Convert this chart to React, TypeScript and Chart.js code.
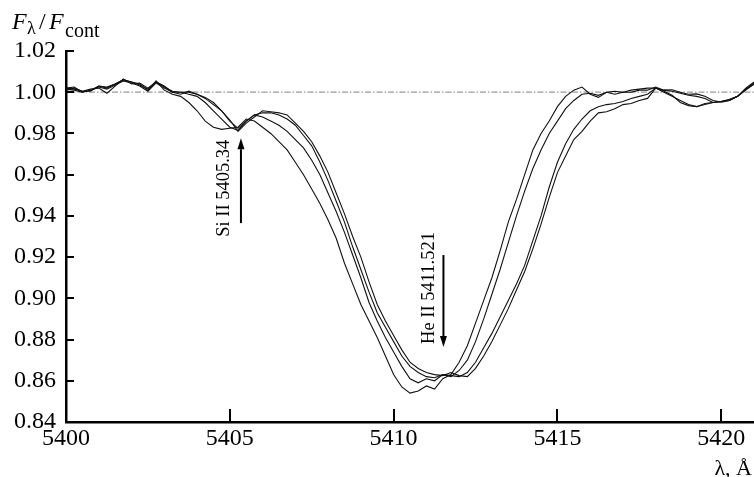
import React, { useEffect, useRef } from 'react';
import { Chart, registerables } from 'chart.js';

Chart.register(...registerables);

// ---- data ----
const X_MIN = 5400;
const X_MAX = 5421;
const Y_MIN = 0.84;
const Y_MAX = 1.02;
const X_TICKS = [5400, 5405, 5410, 5415, 5420];
const Y_TICKS = [0.84, 0.86, 0.88, 0.9, 0.92, 0.94, 0.96, 0.98, 1.0, 1.02];
const CONTINUUM_LEVEL = 1.0;

const WAVELENGTH = [
  5400.0, 5400.25, 5400.5, 5400.75, 5401.0, 5401.25, 5401.5, 5401.75,
  5402.0, 5402.25, 5402.5, 5402.75, 5403.0, 5403.25, 5403.5, 5403.75,
  5404.0, 5404.25, 5404.5, 5404.75, 5405.0, 5405.25, 5405.5, 5405.75,
  5406.0, 5406.25, 5406.5, 5406.75, 5407.0, 5407.25, 5407.5, 5407.75,
  5408.0, 5408.25, 5408.5, 5408.75, 5409.0, 5409.25, 5409.5, 5409.75,
  5410.0, 5410.25, 5410.5, 5410.75, 5411.0, 5411.25, 5411.5, 5411.75,
  5412.0, 5412.25, 5412.5, 5412.75, 5413.0, 5413.25, 5413.5, 5413.75,
  5414.0, 5414.25, 5414.5, 5414.75, 5415.0, 5415.25, 5415.5, 5415.75,
  5416.0, 5416.25, 5416.5, 5416.75, 5417.0, 5417.25, 5417.5, 5417.75,
  5418.0, 5418.25, 5418.5, 5418.75, 5419.0, 5419.25, 5419.5, 5419.75,
  5420.0, 5420.25, 5420.5, 5420.75, 5421.0,
];

const SPECTRUM_1 = [
  1.002, 1.0025, 1.0, 1.001, 1.003, 1.002, 1.004, 1.006,
  1.005, 1.004, 1.001, 1.0055, 1.001, 0.999, 0.998, 0.995,
  0.991, 0.986, 0.983, 0.982, 0.9825, 0.983, 0.987, 0.986,
  0.983, 0.98, 0.976, 0.972, 0.966, 0.96, 0.953, 0.946,
  0.938, 0.929, 0.917, 0.907, 0.897, 0.889, 0.881, 0.872,
  0.863, 0.857, 0.854, 0.855, 0.8575, 0.856, 0.861, 0.863,
  0.869, 0.877, 0.888, 0.899, 0.91, 0.923, 0.937, 0.948,
  0.96, 0.972, 0.98, 0.986, 0.993, 0.998, 1.001, 1.0025,
  0.999, 0.9975, 1.0, 0.999, 1.0, 1.0, 1.001, 1.001,
  1.0025, 1.001, 1.0012, 1.0, 0.999, 0.9992, 0.998, 0.996,
  0.9952, 0.996, 0.998, 1.002, 1.005,
];

const SPECTRUM_2 = [
  1.001, 1.002, 1.0005, 1.0015, 1.002, 0.9995, 1.003, 1.0065,
  1.004, 1.0045, 1.002, 1.005, 1.003, 1.0, 1.0, 0.999,
  0.998, 0.995, 0.991, 0.987, 0.983, 0.9815, 0.986, 0.989,
  0.988, 0.986, 0.984, 0.981, 0.977, 0.973, 0.967, 0.96,
  0.951, 0.942, 0.932, 0.921, 0.91, 0.898, 0.889, 0.881,
  0.874, 0.867, 0.861, 0.859, 0.861, 0.86, 0.863, 0.862,
  0.865, 0.87, 0.879, 0.89, 0.902, 0.914, 0.927, 0.94,
  0.952, 0.963, 0.972, 0.98, 0.986, 0.992, 0.996, 0.999,
  0.9995, 0.9985, 1.0, 1.0005, 1.0, 1.001, 1.0015, 1.002,
  1.002, 1.001, 1.0005, 0.9995, 0.9985, 0.998, 0.997, 0.995,
  0.9955, 0.9965, 0.998, 1.0015, 1.004,
];

const SPECTRUM_3 = [
  1.0015, 1.001, 1.0, 1.001, 1.0025, 1.0015, 1.0035, 1.0055,
  1.0045, 1.003, 1.0005, 1.0045, 1.002, 1.0, 0.999, 1.0005,
  0.999, 0.997, 0.994, 0.991, 0.986, 0.9825, 0.986, 0.989,
  0.99, 0.99, 0.989, 0.987, 0.984, 0.979, 0.974, 0.966,
  0.957, 0.947, 0.937, 0.925, 0.914, 0.903, 0.893, 0.886,
  0.879, 0.872, 0.867, 0.864, 0.862, 0.8615, 0.863, 0.8625,
  0.862, 0.864, 0.869, 0.876, 0.883, 0.891, 0.899, 0.907,
  0.916, 0.928, 0.94, 0.954, 0.966, 0.975, 0.982, 0.987,
  0.991, 0.993, 0.994, 0.9945, 0.9955, 0.997, 0.998, 0.999,
  1.002, 1.0, 0.998, 0.996, 0.994, 0.993, 0.994, 0.995,
  0.9955, 0.9965, 0.998, 1.0015, 1.0045,
];

const SPECTRUM_4 = [
  1.002, 1.0015, 1.0005, 1.0005, 1.003, 1.0025, 1.004, 1.006,
  1.005, 1.0035, 1.0015, 1.005, 1.0025, 1.0005, 1.0, 1.0,
  0.999, 0.9975, 0.995, 0.991, 0.9865, 0.981, 0.985, 0.988,
  0.991, 0.9905, 0.99, 0.989, 0.985, 0.981, 0.976, 0.969,
  0.961, 0.951, 0.941, 0.93, 0.92, 0.908, 0.897, 0.889,
  0.882, 0.875, 0.869, 0.866, 0.864, 0.863, 0.8625, 0.864,
  0.8625, 0.862, 0.866, 0.872, 0.879, 0.887, 0.895, 0.904,
  0.913, 0.924, 0.936, 0.949, 0.961, 0.969, 0.977, 0.981,
  0.986, 0.99, 0.9905, 0.992, 0.994, 0.9945, 0.996, 0.997,
  1.002, 1.0005, 0.9985, 0.995, 0.9935, 0.993, 0.9945, 0.995,
  0.9955, 0.996, 0.998, 1.001, 1.004,
];

const SPECTRA = [SPECTRUM_1, SPECTRUM_2, SPECTRUM_3, SPECTRUM_4];

// line identifications
const LINE_LABELS = ['Si II 5405.34', 'He II 5411.521'];
const LABEL_X = [5404.84, 5411.08];
const LABEL_Y = [0.9534, 0.905];
const ARROW_X = [5405.34, 5411.521];
const ARROW_FROM = [0.9365, 0.921];
const ARROW_TO = [0.9777, 0.8764];

const FONT = 'Liberation Serif';

const decorations = {
  id: 'decorations',
  afterDatasetsDraw(chart: any) {
    const { ctx, chartArea, scales } = chart;
    const xs = scales.x;
    const ys = scales.y;
    ctx.save();
    // inward tick marks
    ctx.strokeStyle = '#000';
    ctx.lineWidth = 2;
    X_TICKS.forEach((v) => {
      const px = Math.round(xs.getPixelForValue(v));
      ctx.beginPath();
      ctx.moveTo(px, chartArea.bottom);
      ctx.lineTo(px, chartArea.bottom - 13);
      ctx.stroke();
    });
    Y_TICKS.forEach((v) => {
      const py = Math.round(ys.getPixelForValue(v));
      ctx.beginPath();
      ctx.moveTo(chartArea.left, py);
      ctx.lineTo(chartArea.left + 8, py);
      ctx.stroke();
    });

    // annotations
    ctx.fillStyle = '#000';
    LINE_LABELS.forEach((label, i) => {
      const tx = xs.getPixelForValue(LABEL_X[i]);
      const ty = ys.getPixelForValue(LABEL_Y[i]);
      ctx.save();
      ctx.translate(tx, ty);
      ctx.rotate(-Math.PI / 2);
      ctx.font = `18.5px "${FONT}"`;
      ctx.textAlign = 'center';
      ctx.textBaseline = 'middle';
      ctx.fillText(label, 0, 0);
      ctx.restore();

      const ax = xs.getPixelForValue(ARROW_X[i]);
      const y0 = ys.getPixelForValue(ARROW_FROM[i]);
      const y1 = ys.getPixelForValue(ARROW_TO[i]);
      const dir = y1 < y0 ? -1 : 1;
      const headLen = 11;
      ctx.lineWidth = 2;
      ctx.beginPath();
      ctx.moveTo(ax, y0);
      ctx.lineTo(ax, y1 - dir * headLen);
      ctx.stroke();
      ctx.beginPath();
      ctx.moveTo(ax, y1);
      ctx.lineTo(ax - 3.5, y1 - dir * headLen);
      ctx.lineTo(ax + 3.5, y1 - dir * headLen);
      ctx.closePath();
      ctx.fill();
    });

    // y title: F_lambda / F_cont
    ctx.textAlign = 'left';
    ctx.textBaseline = 'alphabetic';
    ctx.font = `italic 24px "${FONT}"`;
    ctx.fillText('F', 12, 29);
    ctx.font = `18px "${FONT}"`;
    ctx.fillText('λ', 27, 34);
    ctx.font = `24px "${FONT}"`;
    ctx.fillText('/', 39, 29);
    ctx.font = `italic 24px "${FONT}"`;
    ctx.fillText('F', 49, 29);
    ctx.font = `20px "${FONT}"`;
    ctx.fillText('cont', 65, 37);

    // x title
    ctx.textAlign = 'right';
    ctx.font = `22px "${FONT}"`;
    ctx.fillText('λ, Å', 752, 475);
    ctx.restore();
  },
};

export default function App() {
  const canvasRef = useRef<HTMLCanvasElement | null>(null);

  useEffect(() => {
    const canvas = canvasRef.current;
    if (!canvas) return;
    const datasets: any[] = SPECTRA.map((s, k) => ({
      label: `spectrum ${k + 1}`,
      data: WAVELENGTH.map((x, i) => ({ x, y: s[i] })),
      borderColor: '#111',
      borderWidth: 1.1,
      pointRadius: 0,
      tension: 0,
      fill: false,
    }));
    datasets.push({
      label: 'continuum',
      data: [
        { x: X_MIN, y: CONTINUUM_LEVEL },
        { x: X_MAX, y: CONTINUUM_LEVEL },
      ],
      borderColor: '#9a9a9a',
      borderWidth: 1.2,
      borderDash: [6, 2, 1.5, 2],
      pointRadius: 0,
      fill: false,
    });

    const chart = new Chart(canvas, {
      type: 'line',
      data: { datasets },
      options: {
        responsive: false,
        devicePixelRatio: 1,
        animation: false,
        layout: { padding: { top: 51, right: 0, left: 0, bottom: 0 } },
        plugins: { legend: { display: false }, tooltip: { enabled: false } },
        scales: {
          x: {
            type: 'linear',
            min: X_MIN,
            max: X_MAX,
            afterBuildTicks: (s: any) => {
              s.ticks = X_TICKS.map((v) => ({ value: v }));
            },
            afterFit: (s: any) => {
              s.height = 55;
            },
            grid: { display: false, drawTicks: false },
            border: { display: true, color: '#000', width: 2.5 },
            ticks: {
              color: '#000',
              font: { family: FONT, size: 24 },
              padding: 2,
              maxRotation: 0,
              callback: (v: any) => String(v),
            },
          },
          y: {
            type: 'linear',
            min: Y_MIN,
            max: Y_MAX,
            afterBuildTicks: (s: any) => {
              s.ticks = Y_TICKS.map((v) => ({ value: v }));
            },
            afterFit: (s: any) => {
              s.width = 66;
            },
            grid: { display: false, drawTicks: false },
            border: { display: true, color: '#000', width: 2.5 },
            ticks: {
              color: '#000',
              font: { family: FONT, size: 24 },
              padding: 10,
              callback: (v: any) => Number(v).toFixed(2),
            },
          },
        },
      },
      plugins: [decorations],
    });
    return () => chart.destroy();
  }, []);

  return (
    <div style={{ position: 'fixed', left: 0, top: 0, width: 754, height: 477, background: '#fff' }}>
      <canvas ref={canvasRef} width={754} height={477} style={{ display: 'block', width: 754, height: 477 }} />
    </div>
  );
}
